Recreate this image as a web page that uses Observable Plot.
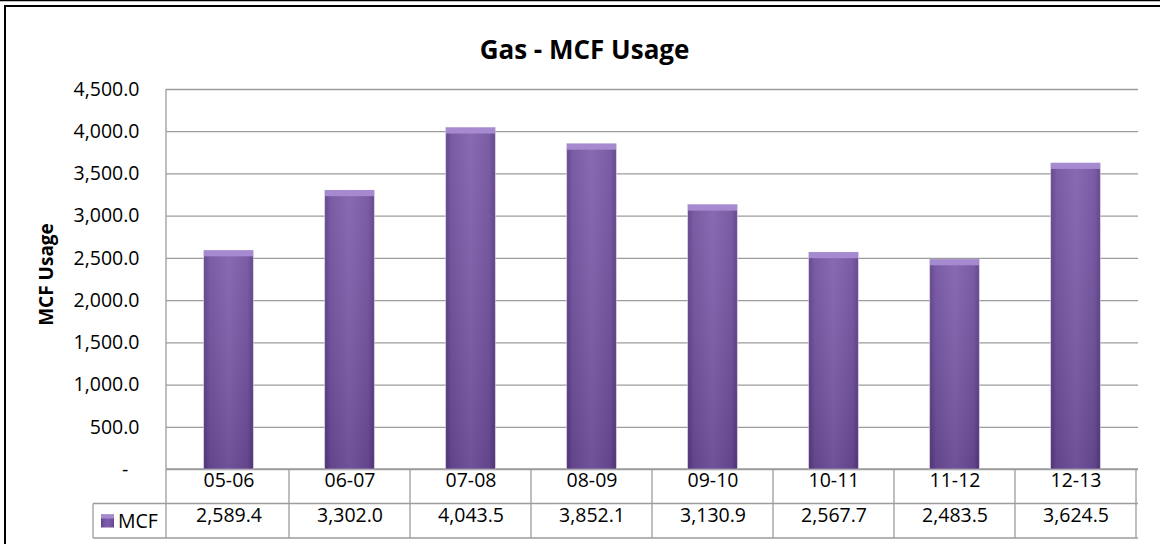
<!DOCTYPE html>
<html>
<head>
<meta charset="utf-8">
<script src="https://cdn.jsdelivr.net/npm/d3@7"></script>
<script src="https://cdn.jsdelivr.net/npm/@observablehq/plot@0.6"></script>
<style>
  body { margin: 0; background: #fff; }
  #chart { position: relative; width: 1160px; height: 544px; overflow: hidden; background: #fff; }
</style>
</head>
<body>
<div id="chart"></div>
<script>
// ---- data ----
const categories = ["05-06", "06-07", "07-08", "08-09", "09-10", "10-11", "11-12", "12-13"];
const mcfValues = [2589.4, 3302.0, 4043.5, 3852.1, 3130.9, 2567.7, 2483.5, 3624.5];
const yTicks = [0, 500, 1000, 1500, 2000, 2500, 3000, 3500, 4000, 4500];
const seriesName = "MCF";
const titleText = "Gas - MCF Usage";
const yLabelText = "MCF Usage";

const data = categories.map((c, i) => ({ period: c, mcf: mcfValues[i] }));
const fmt = d3.format(",.1f");
const FONT = "'Open Sans', 'Liberation Sans', sans-serif";
const GRID = "#9c9c9c";
const FS = 19.5;

// custom mark: gradient defs, frame, axis line, data-table grid and legend key
function tableMark(index, scales, values, dimensions) {
  const { x, y } = scales;
  const left = dimensions.marginLeft;
  const right = dimensions.width - dimensions.marginRight;
  const bw = x.bandwidth ? x.bandwidth() : (right - left) / categories.length;
  const y0 = y(0);
  const top = y(yTicks[yTicks.length - 1]);
  const rowH = 34.5;
  const legendLeft = 93;
  const g = d3.create("svg:g");

  const defs = g.append("defs");
  const grad = defs.append("linearGradient").attr("id", "barGrad")
    .attr("x1", "0").attr("x2", "1").attr("y1", "0").attr("y2", "0");
  [[0, "#5a3a85"], [0.12, "#6f4e9d"], [0.5, "#7e5dac"], [0.88, "#6f4e9d"], [1, "#5a3a85"]]
    .forEach(([o, c]) => grad.append("stop").attr("offset", o).attr("stop-color", c));
  const gradV = defs.append("linearGradient").attr("id", "barShade")
    .attr("x1", "0").attr("x2", "0").attr("y1", "0").attr("y2", "1");
  [[0, "#ffffff", 0.08], [1, "#000000", 0.12]]
    .forEach(([o, c, op]) => gradV.append("stop").attr("offset", o).attr("stop-color", c).attr("stop-opacity", op));

  // outer frame (top double line + left edge)
  g.append("line").attr("x1", 0).attr("x2", dimensions.width).attr("y1", 0.5).attr("y2", 0.5)
    .attr("stroke", "#000").attr("stroke-width", 1.5);
  g.append("line").attr("x1", 4).attr("x2", dimensions.width).attr("y1", 6).attr("y2", 6)
    .attr("stroke", "#000").attr("stroke-width", 2);
  g.append("line").attr("x1", 5).attr("x2", 5).attr("y1", 6).attr("y2", dimensions.height)
    .attr("stroke", "#000").attr("stroke-width", 2);

  const line = (x1, y1, x2, y2) => g.append("line")
    .attr("x1", x1).attr("y1", y1).attr("x2", x2).attr("y2", y2)
    .attr("stroke", GRID).attr("stroke-width", 1.3);

  // vertical axis line through the table
  line(left, top, left, y0 + 2 * rowH);
  // table horizontal lines
  line(left, y0, right, y0);
  line(legendLeft, y0 + rowH, right, y0 + rowH);
  line(legendLeft, y0 + 2 * rowH, right, y0 + 2 * rowH);
  line(legendLeft, y0 + rowH, legendLeft, y0 + 2 * rowH);
  // column separators
  categories.forEach(c => {
    const xr = x(c) + bw;
    line(xr, y0, xr, y0 + 2 * rowH);
  });
  // legend key
  g.append("rect").attr("x", 101).attr("y", y0 + rowH + 11).attr("width", 13).attr("height", 13)
    .attr("fill", "url(#barGrad)");
  g.append("rect").attr("x", 101).attr("y", y0 + rowH + 11).attr("width", 13).attr("height", 4)
    .attr("fill", "#a68bd0");
  g.append("text").attr("x", 118).attr("y", y0 + rowH + rowH / 2).attr("dy", "0.35em")
    .attr("text-anchor", "start").attr("font-size", FS).attr("fill", "#000").text(seriesName);
  return g.node();
}

const plot = Plot.plot({
  width: 1160,
  height: 544,
  marginLeft: 166,
  marginRight: 22,
  marginTop: 89,
  marginBottom: 75,
  style: { fontFamily: FONT, fontSize: FS + "px", color: "#000", background: "transparent" },
  x: { type: "band", domain: categories, padding: 0, axis: null },
  y: {
    domain: [0, 4500],
    ticks: yTicks,
    tickFormat: d => d === 0 ? "-\u2007" : fmt(d),
    tickSize: 0,
    tickPadding: 27,
    label: null
  },
  marks: [
    Plot.ruleY(yTicks, { stroke: GRID, strokeWidth: 1.3 }),
    tableMark,
    Plot.barY(data, { x: "period", y: "mcf", fill: "url(#barGrad)", insetLeft: 35.75, insetRight: 35.75,
      stroke: "#d8d0e4", strokeWidth: 0.6 }),
    Plot.barY(data, { x: "period", y: "mcf", fill: "url(#barShade)", insetLeft: 35.75, insetRight: 35.75 }),
    Plot.barY(data, { x: "period", y1: "mcf", y2: "mcf", insetBottom: -6, insetLeft: 36, insetRight: 36,
      fill: "#a58ad0" }),
    Plot.text(categories, { x: d => d, text: d => d, frameAnchor: "bottom", dy: 17, fontSize: FS, fill: "#000" }),
    Plot.text(data, { x: "period", text: d => fmt(d.mcf), frameAnchor: "bottom", dy: 52, fontSize: FS, fill: "#000" }),
    Plot.text([titleText], { text: d => d, frameAnchor: "top", textAnchor: "middle", dx: -68, dy: -49,
      fontSize: 26, fontWeight: "bold", fill: "#000" }),
    Plot.text([yLabelText], { text: d => d, frameAnchor: "left", textAnchor: "middle", dx: -120, dy: -5, rotate: -90,
      fontSize: 19, fontWeight: "bold", fill: "#000" })
  ]
});

document.getElementById("chart").appendChild(plot);
</script>
</body>
</html>
